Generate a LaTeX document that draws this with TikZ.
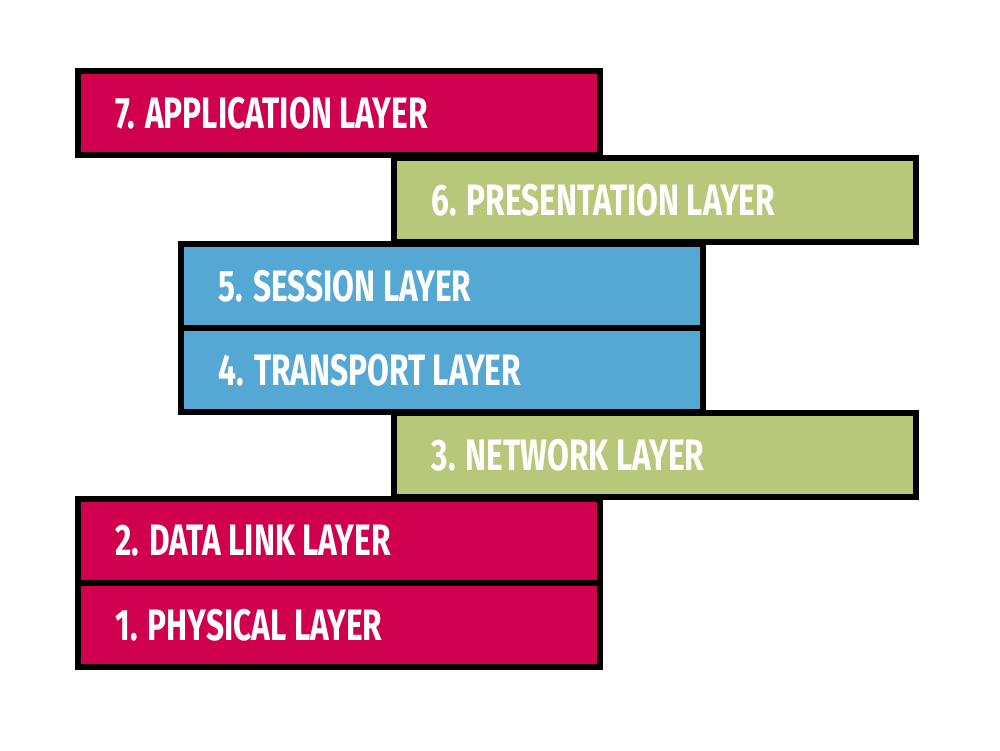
\documentclass[tikz,border=0pt]{standalone}
\usepackage{fontspec}
\newfontfamily\layerfont[FakeStretch=0.72]{Fira Sans}
\definecolor{layred}{HTML}{D0004F}
\definecolor{laygreen}{HTML}{B8C87A}
\definecolor{layblue}{HTML}{56A8D4}
\tikzset{
  layer/.style={draw=black, line width=6pt, anchor=north west, inner sep=0pt,
    minimum width=522pt, minimum height=84pt},
  laytext/.style={anchor=west, text=white, font=\layerfont\bfseries\fontsize{44}{44}\selectfont}
}
\begin{document}
\begin{tikzpicture}[x=1pt, y=-1pt]
  \useasboundingbox (0,0) rectangle (1000,750);
  % boxes, top to bottom
  \node[layer, fill=layred]   (l7) at (75,68)   {};
  \node[layer, fill=laygreen] (l6) at (391,155) {};
  \node[layer, fill=layblue]  (l5) at (178,241) {};
  \node[layer, fill=layblue]  (l4) at (178,325) {};
  \node[layer, fill=laygreen] (l3) at (391,410) {};
  \node[layer, fill=layred]   (l2) at (75,496)  {};
  \node[layer, fill=layred]   (l1) at (75,580)  {};
  % labels
  \node[laytext] (t7) at ([xshift=37pt]l7.west) {7. APPLICATION LAYER};
  \node[laytext] (t6) at ([xshift=37pt]l6.west) {6. PRESENTATION LAYER};
  \node[laytext] (t5) at ([xshift=37pt]l5.west) {5. SESSION LAYER};
  \node[laytext] (t4) at ([xshift=37pt]l4.west) {4. TRANSPORT LAYER};
  \node[laytext] (t3) at ([xshift=37pt]l3.west) {3. NETWORK LAYER};
  \node[laytext] (t2) at ([xshift=37pt]l2.west) {2. DATA LINK LAYER};
  \node[laytext] (t1) at ([xshift=37pt]l1.west) {1. PHYSICAL LAYER};
\end{tikzpicture}
\end{document}
